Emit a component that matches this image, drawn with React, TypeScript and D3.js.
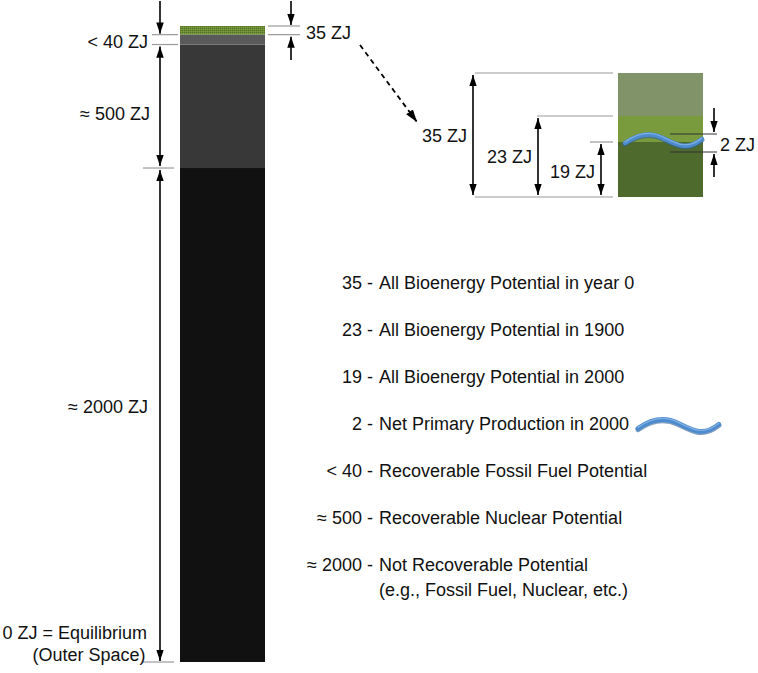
import React from "react";
import * as d3 from "d3";

// energy layers, bottom to top (ZJ)
const layerNames = ["notRecoverable", "nuclear", "fossil", "bio"];
const layerValues = [2000, 500, 40, 35];
const layerLabels = ["≈ 2000 ZJ", "≈ 500 ZJ", "< 40 ZJ", "35 ZJ"];

// bioenergy inset (ZJ)
const bioLevels = [35, 23, 19];
const bioLabels = ["35 ZJ", "23 ZJ", "19 ZJ"];
const nppValue = 2;

// legend
const legendValues = ["35", "23", "19", "2", "< 40", "≈ 500", "≈ 2000"];
const legendLabels = [
  "All Bioenergy Potential in year 0",
  "All Bioenergy Potential in 1900",
  "All Bioenergy Potential in 2000",
  "Net Primary Production in 2000",
  "Recoverable Fossil Fuel Potential",
  "Recoverable Nuclear Potential",
  "Not Recoverable Potential",
];
const legendExtra = "(e.g., Fossil Fuel, Nuclear, etc.)";

const W = 758;
const H = 673;
const FONT = "'Liberation Sans', Arial, Helvetica, sans-serif";
const layerFill: Record<string, string> = {
  notRecoverable: "#111111",
  nuclear: "#383838",
  fossil: "#5a5a5a",
  bio: "url(#bioTex)",
};

const Wave = ({ x, y, sx = 1, sy = 1 }: any) => {
  const d = "M0,9 C10,2 24,-3 38,4 S62,17 77,5";
  return (
    <g transform={`translate(${x},${y}) scale(${sx},${sy})`}>
      <path d={d} fill="none" stroke="#2f5f99" strokeWidth={5} strokeLinecap="round" transform="translate(0,1)" opacity={0.6} />
      <path d={d} fill="none" stroke="#4d8bcf" strokeWidth={4.5} strokeLinecap="round" />
      <path d={d} fill="none" stroke="#8cb9e8" strokeWidth={1.2} strokeLinecap="round" transform="translate(0,-1)" opacity={0.8} />
    </g>
  );
};

const Arrow = ({ x, y1, y2, both = false }: any) => (
  <line
    x1={x}
    x2={x}
    y1={y1}
    y2={y2}
    stroke="#000"
    strokeWidth={1.6}
    markerEnd="url(#head)"
    markerStart={both ? "url(#headStart)" : undefined}
  />
);

export default function App() {
  // main column
  const total = d3.sum(layerValues);
  const y = d3.scaleLinear().domain([0, total]).range([662, 26]);
  const bounds = d3.cumsum(layerValues);
  const stack = layerValues.map((v, i) => ({
    name: layerNames[i],
    label: layerLabels[i],
    lo: i === 0 ? 0 : bounds[i - 1],
    hi: bounds[i],
  }));
  const barX0 = 180;
  const barX1 = 265;
  const ax = 160;

  // inset (not to scale, piecewise)
  const yi = d3
    .scaleLinear()
    .domain([0, bioLevels[2], bioLevels[1], bioLevels[0]])
    .range([197, 142, 116, 73]);
  const insetSegs = [
    { lo: 0, hi: bioLevels[2], fill: "#4e6b2d" },
    { lo: bioLevels[2], hi: bioLevels[1], fill: "#7a9a3e" },
    { lo: bioLevels[1], hi: bioLevels[0], fill: "#819369" },
  ];
  const insetArrowX = [473, 538, 601];
  const insetLineX0 = [475, 537, 590];

  // legend rows
  const ly = d3
    .scalePoint<number>()
    .domain(d3.range(legendValues.length))
    .range([283, 565]);

  const fossil = stack[2];
  const nuclear = stack[1];
  const rest = stack[0];
  const bio = stack[3];

  return (
    <svg
      width={W}
      height={H}
      style={{ position: "absolute", left: 0, top: 0, background: "#fff" }}
      fontFamily={FONT}
      fontSize={18}
    >
      <defs>
        <marker id="head" viewBox="0 0 12 8" refX={12} refY={4} markerWidth={7} markerHeight={4.7} markerUnits="strokeWidth" orient="auto">
          <path d="M0,0 L12,4 L0,8 z" fill="#000" />
        </marker>
        <marker id="headStart" viewBox="0 0 12 8" refX={0} refY={4} markerWidth={7} markerHeight={4.7} markerUnits="strokeWidth" orient="auto">
          <path d="M12,0 L0,4 L12,8 z" fill="#000" />
        </marker>
        <pattern id="bioTex" width={2} height={2} patternUnits="userSpaceOnUse">
          <rect width={2} height={2} fill="#6b8c34" />
          <rect width={1} height={1} fill="#55722a" />
          <rect x={1} y={1} width={1} height={1} fill="#7c9e42" />
        </pattern>
      </defs>

      {/* column */}
      {stack.map((s) => (
        <rect
          key={s.name}
          x={barX0}
          width={barX1 - barX0}
          y={y(s.hi)}
          height={y(s.lo) - y(s.hi)}
          fill={layerFill[s.name]}
        />
      ))}

      {/* left annotations */}
      <g stroke="#9a9a9a" strokeWidth={1.2}>
        <line x1={152} x2={178} y1={y(fossil.hi)} y2={y(fossil.hi)} />
        <line x1={152} x2={178} y1={y(fossil.lo)} y2={y(fossil.lo)} />
        <line x1={143} x2={174} y1={y(rest.hi)} y2={y(rest.hi)} />
        <line x1={143} x2={174} y1={y(0)} y2={y(0)} />
      </g>
      <Arrow x={ax} y1={1} y2={y(fossil.hi) - 1} />
      <Arrow x={ax} y1={y(nuclear.hi) + 2} y2={y(nuclear.lo) - 2} both />
      <Arrow x={ax} y1={y(rest.hi) + 2} y2={y(0) - 1} both />
      <g textAnchor="end" fill="#111">
        <text x={148} y={y((fossil.lo + fossil.hi) / 2) + 2} dy="0.35em">{fossil.label}</text>
        <text x={150} y={(y(nuclear.lo) + y(nuclear.hi)) / 2 + 7} dy="0.35em">{nuclear.label}</text>
        <text x={148} y={(y(rest.lo) + y(rest.hi)) / 2 - 8} dy="0.35em">{rest.label}</text>
        <text x={147} y={633} dy="0.35em">0 ZJ = Equilibrium</text>
        <text x={89} y={655} dy="0.35em" textAnchor="middle">(Outer Space)</text>
      </g>

      {/* right annotation (bio) */}
      <g stroke="#9a9a9a" strokeWidth={1.2}>
        <line x1={268} x2={300} y1={y(bio.hi)} y2={y(bio.hi)} />
        <line x1={268} x2={300} y1={y(bio.lo)} y2={y(bio.lo)} />
      </g>
      <Arrow x={291} y1={1} y2={y(bio.hi) - 1} />
      <Arrow x={291} y1={60} y2={y(bio.lo) + 2} />
      <text x={306} y={33} dy="0.35em" fill="#111">{bio.label}</text>
      <line
        x1={360}
        y1={45}
        x2={417}
        y2={122}
        stroke="#000"
        strokeWidth={1.8}
        strokeDasharray="5,4"
        markerEnd="url(#head)"
      />

      {/* inset */}
      {insetSegs.map((s, i) => (
        <rect key={i} x={618} width={85} y={yi(s.hi)} height={yi(s.lo) - yi(s.hi)} fill={s.fill} />
      ))}
      <g stroke="#9a9a9a" strokeWidth={1.2}>
        {bioLevels.map((v, i) => (
          <line key={v} x1={insetLineX0[i]} x2={613} y1={yi(v)} y2={yi(v)} />
        ))}
        <line x1={475} x2={613} y1={yi(0)} y2={yi(0)} />
      </g>
      {bioLevels.map((v, i) => (
        <Arrow key={v} x={insetArrowX[i]} y1={yi(v) + 2} y2={yi(0) - 2} both />
      ))}
      <g textAnchor="end" fill="#111">
        <text x={467} y={136} dy="0.35em">{bioLabels[0]}</text>
        <text x={532} y={157} dy="0.35em">{bioLabels[1]}</text>
        <text x={595} y={172} dy="0.35em">{bioLabels[2]}</text>
      </g>
      <Wave x={625} y={134} />
      <g stroke="#333" strokeWidth={1}>
        <line x1={670} x2={717} y1={134} y2={134} />
        <line x1={670} x2={717} y1={152} y2={152} />
      </g>
      <Arrow x={714} y1={108} y2={132} />
      <Arrow x={714} y1={177} y2={154} />
      <text x={720} y={145} dy="0.35em" fill="#111">{`${nppValue} ZJ`}</text>

      {/* legend */}
      <g fill="#111">
        {legendValues.map((v, i) => (
          <g key={v}>
            <text x={373} y={ly(i)} dy="0.35em" textAnchor="end">{`${v} -`}</text>
            <text x={379} y={ly(i)} dy="0.35em">{legendLabels[i]}</text>
          </g>
        ))}
        <text x={379} y={(ly(6) as number) + 25} dy="0.35em">{legendExtra}</text>
      </g>
      <Wave x={638} y={(ly(3) as number) - 5} sx={1.05} sy={1.05} />
    </svg>
  );
}
